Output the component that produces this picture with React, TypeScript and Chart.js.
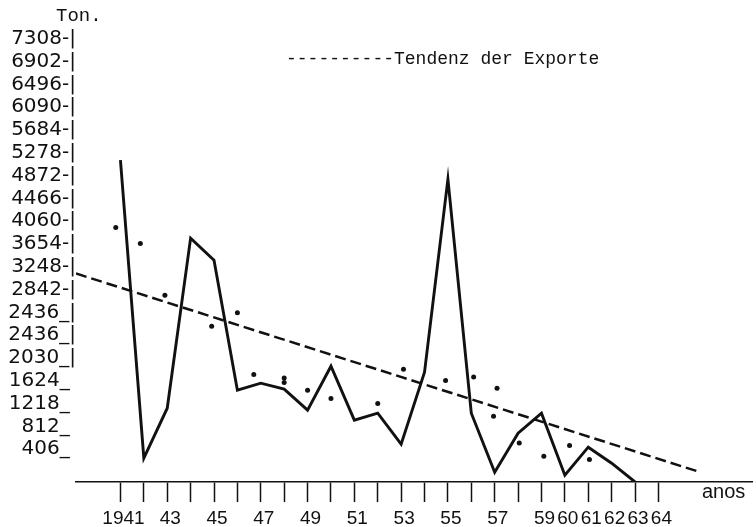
import React, { useEffect, useRef } from "react";
import { Chart, registerables } from "chart.js";

Chart.register(...registerables);

// x axis: years and their printed labels
const years = [1941, 1942, 1943, 1944, 1945, 1946, 1947, 1948, 1949, 1950, 1951, 1952, 1953, 1954, 1955, 1956, 1957, 1958, 1959, 1960, 1961, 1962, 1963, 1964];
const xTickLabels = ["1941", "", "43", "", "45", "", "47", "", "49", "", "51", "", "53", "", "55", "", "57", "", "59", "60", "61", "62", "63", "64"];

// y axis labels, bottom to top (as printed, including the repeated 2436)
const yTickLabels = ["406", "812", "1218", "1624", "2030", "2436", "2436", "2842", "3248", "3654", "4060", "4466", "4872", "5278", "5684", "6090", "6496", "6902", "7308"];
const yTickStep = 406;

// exports (solid line)
const exportYears = [1941, 1942, 1943, 1944, 1945, 1946, 1947, 1948, 1949, 1950, 1951, 1952, 1953, 1954, 1955, 1956, 1957, 1958, 1959, 1960, 1961, 1962, 1963];
const exportTons = [5731, 424, 1314, 4342, 3950, 1635, 1760, 1653, 1279, 2062, 1101, 1225, 673, 1956, 5393, 1225, 175, 869, 1225, 121, 620, 335, 0];

// scattered dots
const dotYears = [1940.8, 1941.85, 1942.9, 1944.9, 1946.0, 1946.7, 1948.0, 1948.0, 1949.0, 1950.0, 1952.0, 1953.1, 1954.9, 1956.1, 1957.1, 1956.95, 1958.05, 1959.1, 1960.2, 1961.05];
const dotTons = [4533, 4248, 3327, 2775, 3012, 1915, 1772, 1854, 1635, 1487, 1398, 2009, 1808, 1872, 1671, 1172, 696, 460, 650, 401];

// trend line (dashed)
const trendYears = [1939.1, 1965.75];
const trendTons = [3713, 180];

const INK = "#111111";

function decorateY(i: number): string {
  const t = yTickLabels[i] ?? "";
  if (i <= 3) return t + "_ ";
  if (i <= 6) return t + "_|";
  return t + "-|";
}

const textPlugin = {
  id: "typedTexts",
  afterDraw(chart: any) {
    const ctx = chart.ctx as CanvasRenderingContext2D;
    ctx.save();
    ctx.fillStyle = INK;
    ctx.textAlign = "left";
    ctx.textBaseline = "middle";
    ctx.font = '19px "Liberation Mono"';
    ctx.fillText("Ton.", 56, 16);
    ctx.font = '18px "Liberation Mono"';
    ctx.fillText("----------Tendenz der Exporte", 286, 59);
    ctx.textBaseline = "alphabetic";
    ctx.font = '20px "Liberation Sans"';
    ctx.fillText("anos", 702, 498);
    ctx.restore();
  },
};

export default function App() {
  const ref = useRef<HTMLCanvasElement | null>(null);

  useEffect(() => {
    if (!ref.current) return;
    const chart = new Chart(ref.current, {
      type: "line",
      data: {
        datasets: [
          {
            label: "Exporte",
            data: exportYears.map((x, i) => ({ x, y: exportTons[i] })),
            borderColor: INK,
            borderWidth: 2.9,
            pointRadius: 0,
            tension: 0,
            fill: false,
          },
          {
            label: "Punkte",
            data: dotYears.map((x, i) => ({ x, y: dotTons[i] })),
            showLine: false,
            pointRadius: 2.5,
            pointBackgroundColor: INK,
            pointBorderWidth: 0,
            borderColor: INK,
          },
          {
            label: "Tendenz der Exporte",
            data: trendYears.map((x, i) => ({ x, y: trendTons[i] })),
            borderColor: INK,
            borderWidth: 2.5,
            borderDash: [11, 5],
            pointRadius: 0,
            tension: 0,
            fill: false,
          },
        ],
      },
      options: {
        responsive: false,
        animation: false,
        devicePixelRatio: 1,
        layout: { padding: { top: 25, left: 0, right: 0, bottom: 0 } },
        plugins: {
          legend: { display: false },
          tooltip: { enabled: false },
          title: { display: false },
        },
        scales: {
          x: {
            type: "linear",
            min: 1939.1,
            max: 1968,
            afterBuildTicks: (s: any) => {
              s.ticks = years.map((v) => ({ value: v }));
            },
            afterFit: (s: any) => {
              s.height = 45;
            },
            ticks: {
              autoSkip: false,
              maxRotation: 0,
              minRotation: 0,
              padding: 5,
              labelOffset: 3,
              color: INK,
              font: { family: "Liberation Sans", size: 19 },
              callback: (_v: any, i: number) => xTickLabels[i],
            },
            grid: {
              display: true,
              drawOnChartArea: false,
              drawTicks: true,
              tickLength: 20,
              tickColor: INK,
              tickWidth: 1.5,
            },
            border: { display: true, color: INK, width: 1.6 },
          },
          y: {
            type: "linear",
            min: 0,
            max: 8138,
            afterBuildTicks: (s: any) => {
              s.ticks = yTickLabels.map((_t, i) => ({ value: (i + 1) * yTickStep }));
            },
            afterFit: (s: any) => {
              s.width = 76;
            },
            ticks: {
              autoSkip: false,
              padding: 0,
              labelOffset: -10,
              color: INK,
              font: { family: "DejaVu Sans", size: 20 },
              callback: (_v: any, i: number) => decorateY(i),
            },
            grid: { display: false, drawTicks: false },
            border: { display: false },
          },
        },
      },
      plugins: [textPlugin],
    });
    return () => chart.destroy();
  }, []);

  return (
    <div style={{ position: "fixed", left: 0, top: 0, width: 756, height: 527, background: "#ffffff" }}>
      <canvas ref={ref} width={756} height={527} style={{ display: "block", width: 756, height: 527 }} />
    </div>
  );
}
